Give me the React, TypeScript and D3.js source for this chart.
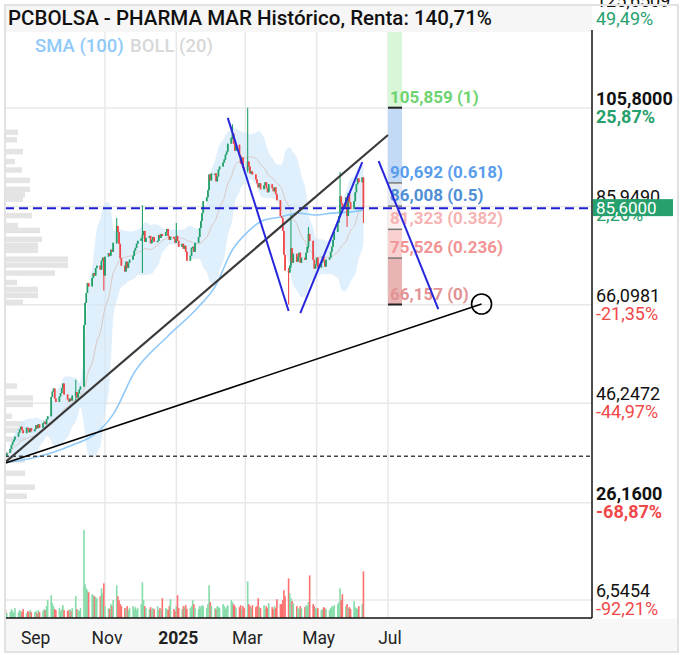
import React from "react";
import * as d3 from "d3";

// ---------- DATA ----------
const title = "PCBOLSA - PHARMA MAR Histórico, Renta: 140,71%";

// daily closes per month (weekdays)
const closesAug2024 = [35.56, 36.2, 37.0, 37.8, 38.4, 38.9, 39.5, 40.3, 41.0, 41.5, 40.8, 40.2, 41.3, 41.0, 40.4, 41.2, 40.6];
const closesSep2024 = [41.0, 41.8, 41.2, 42.0, 41.3, 42.2, 42.5, 42.0, 43.0, 43.6, 47.5, 48.6, 49.2, 47.2, 46.5, 47.6, 48.3, 49.3, 50.2, 48.0, 47.0];
const closesOct2024 = [46.6, 47.2, 46.8, 47.8, 48.5, 47.4, 48.2, 49.0, 49.6, 62.0, 66.5, 68.5, 70.5, 69.8, 71.5, 72.5, 72.0, 73.5, 74.0, 73.2, 75.0, 75.6, 72.0];
const closesNov2024 = [75.8, 76.5, 76.0, 77.2, 76.8, 78.6, 82.0, 80.8, 78.4, 75.5, 74.0, 72.8, 74.8, 73.5, 74.6, 75.2, 76.0, 77.0, 77.6, 78.4, 79.0];
const closesDec2024 = [79.5, 80.2, 81.0, 78.8, 79.6, 80.0, 78.5, 79.2, 79.8, 78.8, 79.0, 80.2, 79.6, 80.4, 80.0, 80.8, 81.4, 80.0, 79.2, 79.8, 79.4, 78.6];
const closesJan2025 = [80.0, 79.0, 77.8, 78.4, 77.4, 78.0, 76.8, 75.0, 76.0, 77.6, 77.8, 76.8, 78.6, 79.8, 81.6, 83.0, 84.6, 87.0, 87.8, 89.2, 92.4, 91.2, 92.6];
const closesFeb2025 = [92.6, 91.0, 92.0, 93.4, 94.0, 94.8, 95.4, 96.4, 97.0, 98.6, 99.8, 100.6, 98.6, 97.2, 98.4, 96.2, 94.6, 95.8, 93.8, 93.2];
const closesMar2025 = [95.0, 94.0, 92.6, 93.0, 92.4, 91.4, 90.6, 89.8, 90.6, 89.4, 90.2, 90.8, 89.6, 88.8, 90.4, 89.6, 89.0, 89.8, 88.4, 87.2, 84.0];
const closesApr2025 = [83.6, 81.0, 76.2, 73.0, 72.6, 74.0, 77.5, 74.6, 76.4, 74.8, 75.8, 76.6, 74.6, 75.6, 75.2, 76.6, 77.8, 80.4, 79.0, 75.2, 73.4, 74.2];
const closesMay2025 = [75.6, 73.6, 74.6, 75.8, 75.0, 73.8, 75.2, 75.6, 76.8, 77.8, 79.2, 80.8, 82.6, 84.0, 88.0, 86.6, 85.6, 87.8, 84.0, 88.6, 86.8, 85.4];
const closesJun2025 = [87.0, 88.8, 90.4, 91.6, 90.8, 91.8, 85.6];

const volAug2024 = [8, 5, 6, 9, 7, 5, 10, 6, 8, 7, 6, 9, 5, 7, 6, 8, 6];
const volSep2024 = [6, 7, 5, 8, 6, 7, 9, 8, 12, 18, 23, 15, 12, 9, 8, 10, 7, 9, 13, 8, 7];
const volOct2024 = [8, 9, 7, 10, 22, 9, 8, 7, 10, 89, 34, 30, 28, 26, 24, 23, 22, 21, 20, 22, 30, 25, 35];
const volNov2024 = [12, 10, 9, 14, 12, 18, 33, 22, 18, 14, 12, 10, 9, 12, 8, 10, 12, 9, 11, 8, 10];
const volDec2024 = [14, 36, 18, 12, 10, 9, 11, 8, 10, 9, 12, 8, 10, 9, 20, 10, 9, 8, 12, 19, 9, 7];
const volJan2025 = [12, 23, 10, 9, 12, 11, 13, 9, 10, 12, 18, 14, 10, 9, 12, 11, 13, 12, 10, 14, 33, 16, 12];
const volFeb2025 = [10, 9, 12, 11, 10, 14, 12, 9, 11, 13, 18, 16, 14, 12, 10, 11, 13, 9, 12, 10];
const volMar2025 = [37, 14, 12, 10, 13, 11, 12, 20, 11, 10, 13, 9, 12, 10, 15, 11, 9, 12, 10, 19, 14];
const volApr2025 = [14, 18, 28, 22, 40, 25, 20, 17, 15, 12, 10, 9, 12, 10, 11, 13, 12, 16, 43, 14, 12, 10];
const volMay2025 = [9, 10, 8, 9, 11, 10, 9, 8, 10, 12, 11, 13, 14, 16, 30, 18, 24, 12, 14, 10, 11, 9];
const volJun2025 = [17, 11, 10, 9, 12, 14, 47];

const firstOpen = 36.4;

// notable wicks
const wickDates = ["2024-10-07", "2024-10-31", "2024-11-11", "2024-12-03", "2025-01-01", "2025-02-18", "2025-03-03", "2025-04-07", "2025-04-09", "2025-04-24", "2025-05-21", "2025-05-27", "2025-06-10"];
const wickHighs = [51.0, 75.6, 83.6, 86.2, 82.6, 102.5, 105.859, 73.5, 84.2, 81.8, 92.9, 87.8, 91.8];
const wickLows = [46.8, 69.0, 78.4, 72.5, 78.8, 99.5, 92.8, 66.157, 73.5, 77.5, 83.8, 81.8, 82.6];

// SMA(100)
const smaDates = ["2024-08-08", "2024-09-02", "2024-10-01", "2024-10-28", "2024-11-08", "2024-11-26", "2024-12-24", "2025-01-20", "2025-02-03", "2025-02-18", "2025-03-03", "2025-03-17", "2025-03-31", "2025-04-15", "2025-04-30", "2025-05-14", "2025-05-29", "2025-06-10"];
const smaValues = [34.3, 35.3, 37.5, 40.9, 44.0, 52.4, 59.6, 65.7, 69.7, 77.2, 80.8, 83.2, 83.8, 84.6, 84.2, 84.6, 84.8, 85.2];

// volume profile (left)
const profilePrices = [100.9, 99.4, 97.0, 95.0, 93.3, 91.2, 89.4, 88.3, 87.4, 84.1, 82.1, 81.1, 79.3, 78.1, 77.1, 75.3, 74.1, 72.5, 70.6, 69.2, 68.0, 66.6, 49.7, 47.3, 46.0, 43.6, 42.1, 40.8, 39.0, 34.8, 32.1, 29.3, 27.5];
const profileVolumes = [13, 12, 18, 10, 17, 25, 25, 20, 18, 27, 13, 35, 37, 33, 33, 63, 63, 50, 12, 33, 33, 18, 12, 28, 28, 7, 20, 30, 20, 20, 20, 30, 22];

// y-axis ticks
const axisTicks = [125.6509, 105.8, 85.949, 66.0981, 46.2472, 26.16, 6.5454];
const axisPcts = ["49,49%", "25,87%", "2,26%", "-21,35%", "-44,97%", "-68,87%", "-92,21%"];
const axisBold = [false, true, false, false, false, true, false];

const lastPrice = 85.6;
const basePrice = 35.56;

// x-axis
const monthTickDates = ["2024-09-01", "2024-11-01", "2025-01-01", "2025-03-01", "2025-05-01", "2025-07-01"];
const monthTickLabels = ["Sep", "Nov", "2025", "Mar", "May", "Jul"];
const gridMonthDates = ["2024-11-01", "2025-01-01", "2025-03-01", "2025-05-01", "2025-07-01"];

// Fibonacci
const fibRatios = ["1", "0.618", "0.5", "0.382", "0.236", "0"];
const fibValues = [105.859, 90.692, 86.008, 81.323, 75.526, 66.157];
const fibTextColors = ["#6fd36f", "#5a9ded", "#4f8fd6", "#f7b3b3", "#f29494", "#e39393"];
const fibBandColors = ["#c3daf6", "#e4eaf1", "#fbeeee", "#f9d1d1", "#e9b4b4"];
const fibAboveColor = "#d8f6d8";
const fibStart = "2025-07-01";
const fibEnd = "2025-07-13";

// drawn lines
const trendA = [{ d: "2024-08-08", p: 34.4 }, { d: "2025-07-01", p: 100.35 }];
const trendB = [{ d: "2024-08-08", p: 34.2 }, { d: "2025-09-19", p: 66.26 }];
const wLines = [
  [{ d: "2025-02-14", p: 103.8 }, { d: "2025-04-07", p: 64.85 }],
  [{ d: "2025-04-17", p: 64.44 }, { d: "2025-06-09", p: 94.9 }],
  [{ d: "2025-06-23", p: 95.1 }, { d: "2025-08-13", p: 65.25 }],
];

// ---------- BUILD ----------
const parse = d3.timeParse("%Y-%m-%d");
const fmtDay = d3.timeFormat("%Y-%m-%d");

const monthBlocks = [
  { year: 2024, month: 7, from: 8, to: 31, closes: closesAug2024, vols: volAug2024 },
  { year: 2024, month: 8, from: 1, to: 31, closes: closesSep2024, vols: volSep2024 },
  { year: 2024, month: 9, from: 1, to: 31, closes: closesOct2024, vols: volOct2024 },
  { year: 2024, month: 10, from: 1, to: 31, closes: closesNov2024, vols: volNov2024 },
  { year: 2024, month: 11, from: 1, to: 31, closes: closesDec2024, vols: volDec2024 },
  { year: 2025, month: 0, from: 1, to: 31, closes: closesJan2025, vols: volJan2025 },
  { year: 2025, month: 1, from: 1, to: 31, closes: closesFeb2025, vols: volFeb2025 },
  { year: 2025, month: 2, from: 1, to: 31, closes: closesMar2025, vols: volMar2025 },
  { year: 2025, month: 3, from: 1, to: 31, closes: closesApr2025, vols: volApr2025 },
  { year: 2025, month: 4, from: 1, to: 31, closes: closesMay2025, vols: volMay2025 },
  { year: 2025, month: 5, from: 1, to: 10, closes: closesJun2025, vols: volJun2025 },
];

type Bar = { date: Date; open: number; close: number; high: number; low: number; vol: number };

function buildBars(): Bar[] {
  const out: Bar[] = [];
  let prev = firstOpen;
  for (const blk of monthBlocks) {
    let k = 0;
    for (let d = blk.from; d <= blk.to; d++) {
      const dt = new Date(blk.year, blk.month, d);
      if (dt.getMonth() !== blk.month) break;
      const wd = dt.getDay();
      if (wd === 0 || wd === 6) continue;
      if (k >= blk.closes.length) break;
      const close = blk.closes[k];
      const open = prev;
      out.push({ date: dt, open, close, high: Math.max(open, close), low: Math.min(open, close), vol: blk.vols[k] });
      prev = close;
      k++;
    }
  }
  wickDates.forEach((ds, i) => {
    const b = out.find((o) => fmtDay(o.date) === ds);
    if (b) {
      b.high = Math.max(b.high, wickHighs[i]);
      b.low = Math.min(b.low, wickLows[i]);
    }
  });
  return out;
}

const fmtPrice = (v: number, dec: number) => v.toFixed(dec).replace(".", ",");

const UP = "#22a06a";
const DOWN = "#f04848";
const UPTXT = "#26a06c";

export default function App() {
  const bars = React.useMemo(buildBars, []);

  const PL = 5, PR = 592, PT = 32, PB = 618;
  const x = d3.scaleTime().domain([parse("2024-11-01")!, parse("2025-07-01")!]).range([105, 388]);
  const y = d3.scaleLinear().domain([6.5454, 105.8]).range([600, 108]);
  const vy = d3.scaleLinear().domain([0, 100]).range([PB, PB - 99]);
  const px = d3.scaleLinear().domain([0, 100]).range([0, 100]);

  const bb = bars.map((b, i) => {
    const win = bars.slice(Math.max(0, i - 19), i + 1).map((d) => d.close);
    const m = d3.mean(win)!;
    const sd = Math.sqrt(d3.mean(win.map((v) => (v - m) ** 2))!);
    return { date: b.date, mid: m, up: m + 2 * sd, lo: m - 2 * sd };
  });

  const bandArea = d3
    .area<any>()
    .x((d) => x(d.date))
    .y0((d) => y(d.lo))
    .y1((d) => y(d.up))
    .curve(d3.curveBasis)(bb)!;
  const midLine = d3
    .line<any>()
    .x((d) => x(d.date))
    .y((d) => y(d.mid))
    .curve(d3.curveBasis)(bb)!;
  const smaLine = d3
    .line<any>()
    .x((d) => x(d.date))
    .y((d) => y(d.v))
    .curve(d3.curveMonotoneX)(smaDates.map((s, i) => ({ date: parse(s)!, v: smaValues[i] })))!;

  const step = 1.62;
  const lastY = y(lastPrice);

  const fibX0 = x(parse(fibStart)!);
  const fibX1 = x(parse(fibEnd)!);

  const pt = (o: { d: string; p: number }) => [x(parse(o.d)!), y(o.p)];

  return (
    <svg
      width={683}
      height={655}
      style={{ position: "absolute", left: 0, top: 0, fontFamily: "Roboto, 'Open Sans', sans-serif", background: "#fff" }}
    >
      <defs>
        <clipPath id="plot">
          <rect x={PL} y={PT} width={PR - PL} height={PB - PT} />
        </clipPath>
      </defs>

      {/* bottom axis background */}
      <rect x={5} y={619} width={673} height={33} fill="#f7f7f7" />

      <g clipPath="url(#plot)">
        {/* grid */}
        {gridMonthDates.map((s) => (
          <line key={s} x1={x(parse(s)!)} x2={x(parse(s)!)} y1={PT} y2={PB} stroke="#e8e8e8" strokeWidth={1.5} />
        ))}
        {axisTicks.map((t) => (
          <line key={t} x1={PL} x2={PR} y1={y(t)} y2={y(t)} stroke="#e8e8e8" strokeWidth={1.5} />
        ))}

        {/* volume profile */}
        {profilePrices.map((p, i) => (
          <rect key={i} x={PL} y={y(p + 0.55)} width={px(profileVolumes[i])} height={y(p - 0.55) - y(p + 0.55)} fill="#e1e1e1" opacity={0.9} />
        ))}

        {/* bollinger */}
        <path d={bandArea} fill="#cfe7fb" opacity={0.65} />
        <path d={midLine} fill="none" stroke="#d9c9c2" strokeWidth={1} />

        {/* SMA 100 */}
        <path d={smaLine} fill="none" stroke="#90caf9" strokeWidth={1.6} />

        {/* volume bars */}
        {bars.map((b, i) => (
          <rect
            key={"v" + i}
            x={x(b.date) - step / 2}
            y={vy(b.vol)}
            width={step}
            height={PB - vy(b.vol)}
            fill={b.close >= b.open ? "#86dcaa" : "#ff7070"}
          />
        ))}

        {/* fib bands */}
        <rect x={fibX0} y={PT} width={fibX1 - fibX0} height={y(fibValues[0]) - PT} fill={fibAboveColor} />
        {fibBandColors.map((c, i) => (
          <rect key={c} x={fibX0} y={y(fibValues[i])} width={fibX1 - fibX0} height={y(fibValues[i + 1]) - y(fibValues[i])} fill={c} />
        ))}
        {fibValues.map((v, i) => (
          <line
            key={"ft" + i}
            x1={fibX0}
            x2={fibX1}
            y1={y(v)}
            y2={y(v)}
            stroke={i === 0 || i === fibValues.length - 1 ? "#222" : "#777"}
            strokeWidth={i === 0 || i === fibValues.length - 1 ? 2 : 1.5}
          />
        ))}
        {fibValues.map((v, i) => (
          <text key={"fl" + i} x={fibX0 + 2} y={y(v) - 5} fontSize={17} fontWeight={700} fill={fibTextColors[i]}>
            {`${fmtPrice(v, 3)} (${fibRatios[i]})`}
          </text>
        ))}

        {/* candles */}
        {bars.map((b, i) => {
          const col = b.close >= b.open ? UP : DOWN;
          const cx = x(b.date);
          const top = y(Math.max(b.open, b.close));
          const bot = y(Math.min(b.open, b.close));
          return (
            <g key={"c" + i}>
              <line x1={cx} x2={cx} y1={y(b.high)} y2={y(b.low)} stroke={col} strokeWidth={1.1} />
              <rect x={cx - 0.85} y={top} width={1.7} height={Math.max(1.5, bot - top)} fill={col} />
            </g>
          );
        })}

        {/* level lines */}
        <line x1={PL} x2={PR} y1={lastY} y2={lastY} stroke="#1f1fd6" strokeWidth={2} strokeDasharray="9,5" />
        <line x1={PL} x2={PR} y1={y(basePrice)} y2={y(basePrice)} stroke="#444" strokeWidth={1.5} strokeDasharray="4,3" />

        {/* trend lines */}
        <line
          x1={pt(trendA[0])[0]}
          y1={pt(trendA[0])[1]}
          x2={pt(trendA[1])[0]}
          y2={pt(trendA[1])[1]}
          stroke="#3a3a3a"
          strokeWidth={2.2}
        />
        <line
          x1={pt(trendB[0])[0]}
          y1={pt(trendB[0])[1]}
          x2={pt(trendB[1])[0]}
          y2={pt(trendB[1])[1]}
          stroke="#000"
          strokeWidth={1.6}
        />
        <circle cx={pt(trendB[1])[0]} cy={pt(trendB[1])[1]} r={10} fill="none" stroke="#000" strokeWidth={1.6} />
        {wLines.map((l, i) => (
          <line key={"w" + i} x1={pt(l[0])[0]} y1={pt(l[0])[1]} x2={pt(l[1])[0]} y2={pt(l[1])[1]} stroke="#2626dc" strokeWidth={2} />
        ))}
      </g>

      {/* title */}
      <rect x={5} y={5} width={PR - 5} height={PT - 5} fill="#f6f6f6" />
      <text x={8} y={25} fontSize={20} fontWeight={500} fill="#111" textLength={484} lengthAdjust="spacingAndGlyphs">
        {title}
      </text>

      {/* indicator legend */}
      <text x={35} y={52} fontSize={18.5} fontWeight={500} fill="#90caf9">SMA (100)</text>
      <text x={130} y={52} fontSize={18.5} fontWeight={500} fill="#d8d8d8">BOLL (20)</text>

      {/* right axis labels */}
      {axisTicks.map((t, i) => (
        <g key={"ax" + i}>
          <text x={596} y={y(t) - 3} fontSize={18} fontWeight={axisBold[i] ? 700 : 400} fill="#111">
            {fmtPrice(t, 4)}
          </text>
          <text x={596} y={y(t) + 15} fontSize={18} fontWeight={axisBold[i] ? 700 : 400} fill={axisPcts[i].startsWith("-") ? DOWN : UPTXT}>
            {axisPcts[i]}
          </text>
        </g>
      ))}

      {/* last price box */}
      <rect x={593} y={lastY - 9} width={80} height={17} fill={UPTXT} />
      <text x={596} y={lastY + 6} fontSize={17} fill="#fff">
        {fmtPrice(lastPrice, 4)}
      </text>

      {/* axes */}
      <line x1={PR} x2={PR} y1={30} y2={PB} stroke="#111" strokeWidth={1.5} />
      <line x1={PL} x2={PR} y1={PB} y2={PB} stroke="#111" strokeWidth={1.5} />

      {/* x labels */}
      {monthTickDates.map((s, i) => (
        <text
          key={s}
          x={x(parse(s)!) + 2}
          y={644}
          fontSize={17.5}
          fontWeight={monthTickLabels[i] === "2025" ? 700 : 400}
          fill="#222"
          textAnchor="middle"
        >
          {monthTickLabels[i]}
        </text>
      ))}

      {/* frame */}
      <rect x={5} y={5} width={673} height={647} fill="none" stroke="#e2e2e2" strokeWidth={2} />
    </svg>
  );
}
